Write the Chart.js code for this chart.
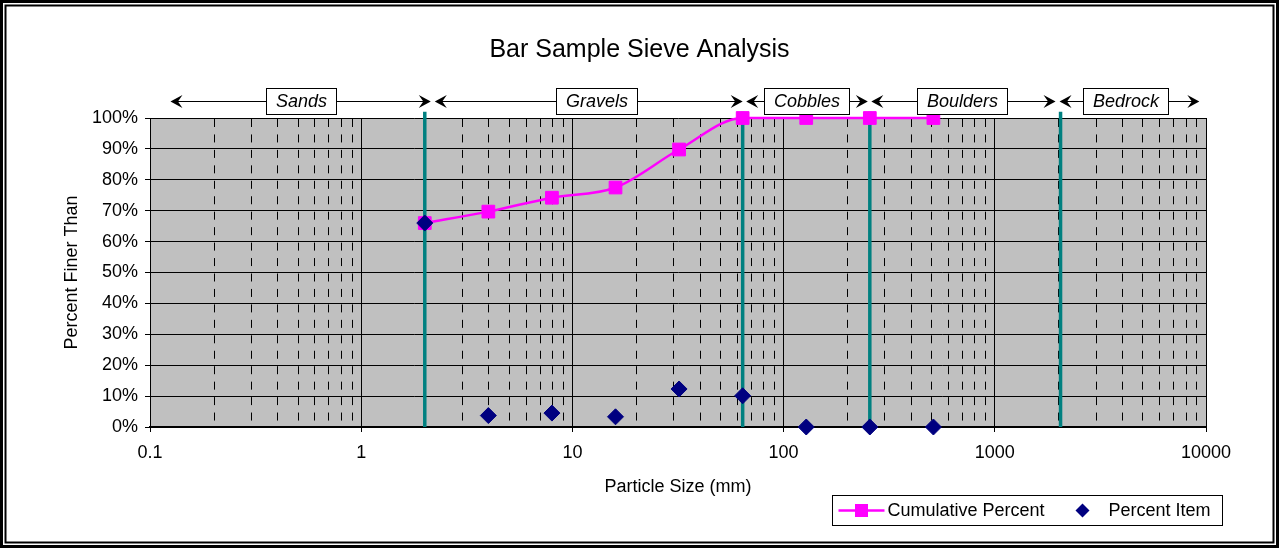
<!DOCTYPE html>
<html>
<head>
<meta charset="utf-8">
<title>Bar Sample Sieve Analysis</title>
<script src="https://cdn.jsdelivr.net/npm/chart.js@4.4.0/dist/chart.umd.min.js"></script>
<style>
  html, body { margin: 0; padding: 0; background: #fff; }
  #wrap { width: 1279px; height: 548px; }
</style>
</head>
<body>
<div id="wrap"><canvas id="sieveChart" width="1279" height="548"></canvas></div>
<script>
// sieve sizes (mm) and results
const sieveSizes = [2, 4, 8, 16, 32, 64, 128, 256, 512];
const cumulativePercent = [66, 69.7, 74.2, 77.5, 89.8, 100, 100, 100, 100];
const percentItem = [66, 3.7, 4.5, 3.3, 12.3, 10.1, 0, 0, 0];

// size classes across the top, boundaries in mm
const classNames = ['Sands', 'Gravels', 'Cobbles', 'Boulders', 'Bedrock'];
const classBounds = [0.125, 2, 64, 256, 2048, 9300];
const boundaryLines = [2, 64, 256, 2048];

// axis ticks
const xTickValues = [0.1, 1, 10, 100, 1000, 10000];
const yTickValues = [0, 10, 20, 30, 40, 50, 60, 70, 80, 90, 100];

const FONT = 'Arial, "Liberation Sans", sans-serif';
const PINK = '#ff00ff';
const NAVY = '#000080';
const TEAL = '#008080';

// décalages (px) des pointes de flèche autour de chaque limite, et des étiquettes
const rightTipShift = [6, 0, -2, -5];
const leftTipShift = [10, 3.5, 1.5, -1];
const labelShift = [0, 8, 0, -1, -4];

// petite fonction pour les pointes de flèche (dir = -1 gauche, 1 droite)
function arrowHead(ctx, tipX, y, dir) {
    ctx.beginPath();
    ctx.moveTo(tipX, y);
    ctx.lineTo(tipX - dir * 12, y - 6.5);
    ctx.lineTo(tipX - dir * 7.5, y);
    ctx.lineTo(tipX - dir * 12, y + 6.5);
    ctx.closePath();
    ctx.fill();
}

const sieveDecor = {
    id: 'sieveDecor',
    beforeDraw(chart) {
        const { ctx, chartArea: a } = chart;
        ctx.save();
        ctx.fillStyle = '#fff';
        ctx.fillRect(0, 0, chart.width, chart.height);
        ctx.fillStyle = '#c0c0c0';
        ctx.fillRect(a.left, a.top, a.right - a.left, a.bottom - a.top);
        ctx.restore();
    },
    beforeDatasetsDraw(chart) {
        // dashed minor lines 2..9 inside each decade
        const { ctx, chartArea: a, scales: { x } } = chart;
        ctx.save();
        ctx.strokeStyle = '#000';
        ctx.lineWidth = 1;
        ctx.setLineDash([8, 7.45]);
        for (let e = -1; e < 4; e++) {
            const d = Math.pow(10, e);
            for (let k = 2; k <= 9; k++) {
                const px = Math.round(x.getPixelForValue(d * k)) + 0.5;
                ctx.beginPath();
                ctx.moveTo(px, a.top + 1);
                ctx.lineTo(px, a.bottom);
                ctx.stroke();
            }
        }
        ctx.restore();
    },
    afterDraw(chart) {
        const { ctx, chartArea: a, scales: { x } } = chart;
        ctx.save();

        // chart title
        ctx.fillStyle = '#000';
        ctx.font = '25px ' + FONT;
        ctx.textAlign = 'center';
        ctx.textBaseline = 'middle';
        ctx.fillText('Bar Sample Sieve Analysis', chart.width / 2, 50);

        // class arrows and labels above the plot
        const arrowY = Math.round(101) + 0.5;
        ctx.strokeStyle = '#000';
        ctx.lineWidth = 1;
        ctx.font = 'italic 18px ' + FONT;
        for (let i = 0; i < classNames.length; i++) {
            const first = i === 0;
            const last = i === classNames.length - 1;
            const x0 = x.getPixelForValue(classBounds[i]) + (first ? 0 : leftTipShift[i - 1]);
            const x1 = x.getPixelForValue(classBounds[i + 1]) + (last ? 0 : rightTipShift[i]);
            ctx.beginPath();
            ctx.moveTo(x0 + 4, arrowY);
            ctx.lineTo(x1 - 4, arrowY);
            ctx.stroke();
            ctx.fillStyle = '#000';
            arrowHead(ctx, x0, arrowY, -1);
            arrowHead(ctx, x1, arrowY, 1);

            const cx = (x0 + x1) / 2 + labelShift[i];
            const w = Math.round(ctx.measureText(classNames[i]).width + 19);
            const bx = Math.round(cx - w / 2) + 0.5;
            ctx.fillStyle = '#fff';
            ctx.fillRect(bx, 88.5, w, 26);
            ctx.strokeRect(bx, 88.5, w, 26);
            ctx.fillStyle = '#000';
            ctx.fillText(classNames[i], bx + w / 2, arrowY + 0.5);
        }

        // legend box
        const lw = 390, lh = 30;
        const lx = Math.round(a.right + 16 - lw) + 0.5;
        const ly = 495.5;
        ctx.fillStyle = '#fff';
        ctx.fillRect(lx, ly, lw, lh);
        ctx.strokeStyle = '#000';
        ctx.strokeRect(lx, ly, lw, lh);
        const my = ly + lh / 2;
        ctx.strokeStyle = PINK;
        ctx.lineWidth = 2.5;
        ctx.beginPath();
        ctx.moveTo(lx + 6, my);
        ctx.lineTo(lx + 52, my);
        ctx.stroke();
        ctx.fillStyle = PINK;
        ctx.fillRect(lx + 29 - 6.5, my - 6.5, 13, 13);
        ctx.fillStyle = NAVY;
        ctx.beginPath();
        ctx.moveTo(lx + 250, my - 7);
        ctx.lineTo(lx + 257, my);
        ctx.lineTo(lx + 250, my + 7);
        ctx.lineTo(lx + 243, my);
        ctx.closePath();
        ctx.fill();
        ctx.fillStyle = '#000';
        ctx.font = '18px ' + FONT;
        ctx.textAlign = 'left';
        ctx.fillText('Cumulative Percent', lx + 55, my + 1);
        ctx.fillText('Percent Item', lx + 276, my + 1);

        // double frame around the whole chart
        ctx.strokeStyle = '#000';
        ctx.lineWidth = 3;
        ctx.strokeRect(1.5, 1.5, chart.width - 3, chart.height - 3);
        ctx.lineWidth = 2;
        ctx.strokeRect(5.5, 5.5, chart.width - 11, chart.height - 11);
        ctx.restore();
    }
};

const boundaryDatasets = boundaryLines.map(b => ({
    label: 'boundary ' + b,
    data: [{ x: b, y: 0 }, { x: b, y: 102 }],
    borderColor: TEAL,
    borderWidth: 3.5,
    pointRadius: 0,
    showLine: true,
    clip: false,
    order: 2
}));

const ctx = document.getElementById('sieveChart').getContext('2d');
new Chart(ctx, {
    type: 'scatter',
    data: {
        datasets: [
            {
                label: 'Cumulative Percent',
                data: sieveSizes.map((s, i) => ({ x: s, y: cumulativePercent[i] })),
                showLine: true,
                borderColor: PINK,
                borderWidth: 2.5,
                backgroundColor: PINK,
                pointStyle: 'rect',
                pointRadius: 9,
                pointBorderWidth: 1,
                pointBorderColor: PINK,
                cubicInterpolationMode: 'monotone',
                clip: false,
                order: 1
            },
            {
                label: 'Percent Item',
                data: sieveSizes.map((s, i) => ({ x: s, y: percentItem[i] })),
                showLine: false,
                backgroundColor: NAVY,
                borderColor: NAVY,
                pointStyle: 'rectRot',
                pointRadius: 8,
                pointBorderWidth: 1,
                clip: false,
                order: 0
            },
            ...boundaryDatasets
        ]
    },
    options: {
        responsive: false,
        animation: false,
        devicePixelRatio: 1,
        layout: { padding: { top: 118, right: 73, bottom: 0, left: 0 } },
        scales: {
            x: {
                type: 'logarithmic',
                min: 0.1,
                max: 10000,
                afterBuildTicks: scale => { scale.ticks = xTickValues.map(v => ({ value: v })); },
                afterFit: scale => { scale.height = 121; },
                ticks: {
                    color: '#000',
                    font: { family: FONT, size: 18 },
                    padding: 10,
                    maxRotation: 0,
                    autoSkip: false,
                    callback: v => String(v)
                },
                grid: { color: '#000', lineWidth: 1, tickLength: 5, tickColor: '#000' },
                border: { color: '#000', width: 2 },
                title: {
                    display: true,
                    text: 'Particle Size (mm)',
                    color: '#000',
                    font: { family: FONT, size: 18 },
                    padding: { top: 0, bottom: 50 }
                }
            },
            y: {
                min: 0,
                max: 100,
                afterBuildTicks: scale => { scale.ticks = yTickValues.map(v => ({ value: v })); },
                afterFit: scale => { scale.width = 150; },
                ticks: {
                    color: '#000',
                    font: { family: FONT, size: 18 },
                    padding: 7,
                    callback: v => v + '%'
                },
                grid: { color: '#000', lineWidth: 1, tickLength: 5, tickColor: '#000' },
                border: { color: '#000', width: 1 },
                title: {
                    display: true,
                    text: 'Percent Finer Than',
                    color: '#000',
                    font: { family: FONT, size: 18 },
                    padding: { top: 61, bottom: 0 }
                }
            }
        },
        plugins: {
            legend: { display: false },
            title: { display: false },
            tooltip: {
                filter: item => item.dataset.order !== 2,
                callbacks: {
                    label: c => c.dataset.label + ': ' + c.parsed.x + ' mm, ' + c.parsed.y + '%'
                }
            }
        }
    },
    plugins: [sieveDecor]
});
</script>
</body>
</html>
